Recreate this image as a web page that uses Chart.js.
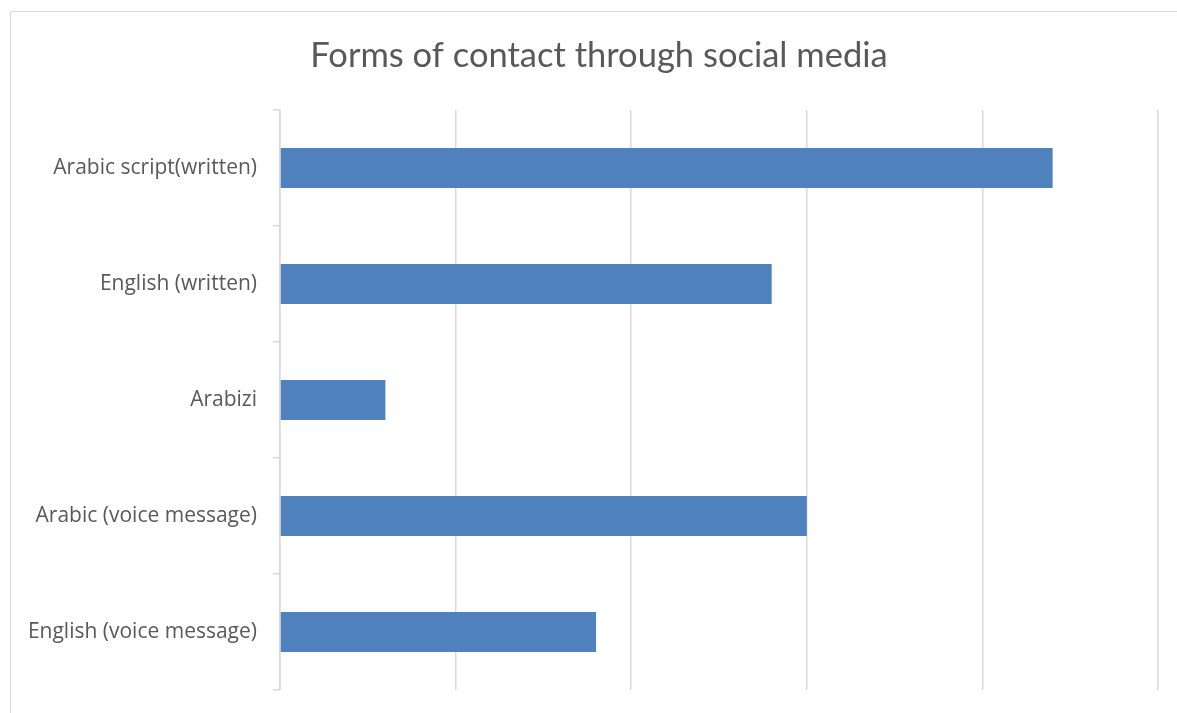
<!DOCTYPE html>
<html>
<head>
<meta charset="utf-8">
<script src="https://cdn.jsdelivr.net/npm/chart.js@4"></script>
<style>
    html, body { margin: 0; padding: 0; background: #fff; }
    #wrap { position: relative; width: 1177px; height: 713px; overflow: hidden; }
    #frame { position: absolute; left: 10px; top: 11px; width: 1200px; height: 800px; border-top: 1.5px solid #d9d9d9; border-left: 1.5px solid #d9d9d9; }
    canvas { position: absolute; left: 0; top: 0; }
</style>
</head>
<body>
<div id="wrap">
    <div id="frame"></div>
    <canvas id="chart" width="1177" height="713"></canvas>
</div>
<script>
// Categories top to bottom, as in the picture
const categories = [
    'Arabic script(written)',
    'English (written)',
    'Arabizi',
    'Arabic (voice message)',
    'English (voice message)'
];
const counts = [22, 14, 3, 15, 9];
const xMax = 25;
const xStep = 5;
const titleText = 'Forms of contact through social media';

const gridGrey = '#d9d9d9';
const textGrey = '#595959';

Chart.defaults.font.family = '"Open Sans", Lato, sans-serif';

// the built-in title centres on the whole canvas; the original sits a bit right of that
const centredTitle = {
    id: 'centredTitle',
    afterDraw(chart) {
        const ctx = chart.ctx;
        ctx.save();
        ctx.font = '34.5px Lato, sans-serif';
        ctx.fillStyle = textGrey;
        ctx.textAlign = 'center';
        ctx.textBaseline = 'middle';
        ctx.fillText(titleText, 599, 56);
        ctx.restore();
    }
};

new Chart(document.getElementById('chart'), {
    type: 'bar',
    data: {
        labels: categories,
        datasets: [{
            data: counts,
            backgroundColor: '#4f81bd',
            borderWidth: 0,
            barPercentage: 0.345,
            categoryPercentage: 1
        }]
    },
    plugins: [centredTitle],
    options: {
        indexAxis: 'y',
        responsive: false,
        animation: false,
        layout: { padding: { left: 10, right: 19, top: 110, bottom: 23 } },
        plugins: {
            legend: { display: false },
            tooltip: { enabled: false },
            title: { display: false }
        },
        scales: {
            x: {
                min: 0,
                max: xMax,
                ticks: { display: false, stepSize: xStep },
                grid: { color: gridGrey, lineWidth: 1.5, drawTicks: false },
                border: { display: false },
                afterFit: scale => { scale.height = 0; }
            },
            y: {
                ticks: { color: textGrey, font: { size: 21 }, padding: 16 },
                grid: { drawOnChartArea: false, color: gridGrey, lineWidth: 1.5, tickLength: 7, offset: true },
                border: { color: gridGrey, width: 1.5 },
                afterFit: scale => {
                    scale.width = 270;
                    scale.paddingTop = 0;
                    scale.paddingBottom = 0;
                }
            }
        }
    }
});
</script>
</body>
</html>
